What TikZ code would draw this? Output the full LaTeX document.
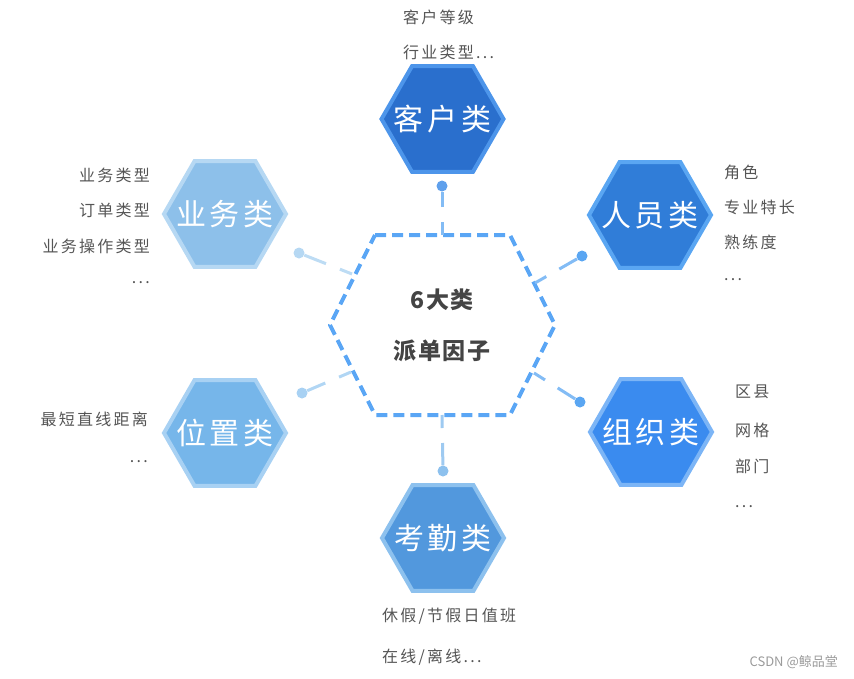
\documentclass[tikz,border=0pt]{standalone}
\usepackage{fontspec}
\setmainfont{Noto Sans CJK SC}
\newfontfamily\labfont{Noto Sans CJK SC}[LetterSpace=14]
\newfontfamily\hexfont{Noto Sans CJK SC}[LetterSpace=12]
\newfontfamily\corefont{Noto Sans CJK SC}[LetterSpace=8]
\usepackage{tikz}
\usetikzlibrary{positioning,shapes.geometric}

\definecolor{kehuF}{HTML}{2A6FCD}
\definecolor{kehuB}{HTML}{4D95EA}
\definecolor{renyuanF}{HTML}{307DD8}
\definecolor{renyuanB}{HTML}{5AA6F2}
\definecolor{yewuF}{HTML}{8DC0EA}
\definecolor{yewuB}{HTML}{B6D8F3}
\definecolor{weizhiF}{HTML}{76B6EA}
\definecolor{weizhiB}{HTML}{A8D1F3}
\definecolor{zuzhiF}{HTML}{3A8BEF}
\definecolor{zuzhiB}{HTML}{7CB5F6}
\definecolor{kaoqinF}{HTML}{5298DD}
\definecolor{kaoqinB}{HTML}{8DC1EE}
\definecolor{coreline}{HTML}{5AA6F5}
\definecolor{labgray}{HTML}{555555}
\definecolor{titlegray}{HTML}{444444}
\definecolor{markgray}{HTML}{9A9A9A}

\tikzset{
  hexa/.style={regular polygon,regular polygon sides=6,minimum size=122pt,
    line width=4pt},
  hexname/.style={text=white,font=\hexfont\fontsize{30}{30}\selectfont},
  lab/.style={text=labgray,font=\labfont\fontsize{16}{16}\selectfont},
  link/.style={line width=3pt,dash pattern=on 13pt off 15pt on 40pt},
  dot/.style={circle,minimum size=11pt}
}

\begin{document}
\begin{tikzpicture}[x=1pt,y=-1pt,inner sep=0pt]
\useasboundingbox (0,0) rectangle (854,678);

\coordinate (c1) at (375,235);
\coordinate (c2) at (510,235);
\coordinate (c3) at (555,325);
\coordinate (c4) at (510,415);
\coordinate (c5) at (375,415);
\coordinate (c6) at (330,325);
\draw[coreline,line width=4pt,dash pattern=on 11pt off 6pt,line join=round]
  (c1) -- (c2) -- (c3) -- (c4) -- (c5) -- (c6) -- cycle;

\node[text=titlegray,font=\corefont\fontsize{23}{23}\selectfont\bfseries] (big) at (442,300) {6大类};
\node[text=titlegray,font=\corefont\fontsize{23}{23}\selectfont\bfseries] (pai) at (442,351) {派单因子};

\node[hexa,fill=kehuF,draw=kehuB] (kehu) at (442.5,119) {};
\node[hexa,fill=renyuanF,draw=renyuanB] (renyuan) at (650,215) {};
\node[hexa,fill=yewuF,draw=yewuB] (yewu) at (225,214) {};
\node[hexa,fill=weizhiF,draw=weizhiB] (weizhi) at (225,433) {};
\node[hexa,fill=zuzhiF,draw=zuzhiB] (zuzhi) at (651,432) {};
\node[hexa,fill=kaoqinF,draw=kaoqinB] (kaoqin) at (443,538) {};

\node[hexname] (tkehu) at (kehu) {客户类};
\node[hexname] (trenyuan) at (renyuan) {人员类};
\node[hexname] (tyewu) at (yewu) {业务类};
\node[hexname] (tweizhi) at (weizhi) {位置类};
\node[hexname] (tzuzhi) at (zuzhi) {组织类};
\node[hexname] (tkaoqin) at (kaoqin) {考勤类};

\coordinate (ekehu) at (442,235);
\coordinate (erenyuan) at (535,283);
\coordinate (eyewu) at (352,274);
\coordinate (eweizhi) at (351,372);
\coordinate (ezuzhi) at (534,373);
\coordinate (ekaoqin) at (442,415);

\node[dot,fill=kehuB!90] (dkehu) at (442,186) {};
\node[dot,fill=renyuanB] (drenyuan) at (582,256) {};
\node[dot,fill=yewuB] (dyewu) at (299,253) {};
\node[dot,fill=weizhiB] (dweizhi) at (302,393) {};
\node[dot,fill=renyuanB] (dzuzhi) at (580,402) {};
\node[dot,fill=kaoqinB] (dkaoqin) at (443,471) {};

\draw[link,draw=renyuanB!75] (ekehu) -- (dkehu);
\draw[link,draw=renyuanB!75] (erenyuan) -- (drenyuan);
\draw[link,draw=yewuB!90] (eyewu) -- (dyewu);
\draw[link,draw=weizhiB!90] (eweizhi) -- (dweizhi);
\draw[link,draw=renyuanB!75] (ezuzhi) -- (dzuzhi);
\draw[link,draw=kaoqinB!85] (ekaoqin) -- (dkaoqin);

\node[lab,anchor=west] (k1) at (403,17) {客户等级};
\node[lab,anchor=west] (k2) at (403,52) {行业类型...};

\node[lab,anchor=west] (r1) at (724,172) {角色};
\node[lab,anchor=west] (r2) at (724,207) {专业特长};
\node[lab,anchor=west] (r3) at (724,242) {熟练度};
\node[lab,anchor=west] (r4) at (724,280) {...};

\node[lab,anchor=east] (y1) at (150,175) {业务类型};
\node[lab,anchor=east] (y2) at (150,210) {订单类型};
\node[lab,anchor=east] (y3) at (150,246) {业务操作类型};
\node[lab,anchor=east] (y4) at (150,283) {...};

\node[lab,anchor=east] (w1) at (148,419) {最短直线距离};
\node[lab,anchor=east] (w2) at (148,462) {...};

\node[lab,anchor=west] (z1) at (735,392) {区县};
\node[lab,anchor=west] (z2) at (735,430) {网格};
\node[lab,anchor=west] (z3) at (735,466) {部门};
\node[lab,anchor=west] (z4) at (735,507) {...};

\node[lab,anchor=west] (q1) at (382,616) {休假/节假日值班};
\node[lab,anchor=west] (q2) at (382,657) {在线/离线...};

\node[anchor=east,text=markgray,font=\fontsize{13}{13}\selectfont] (mark) at (838,662) {CSDN @鲸品堂};
\end{tikzpicture}
\end{document}
